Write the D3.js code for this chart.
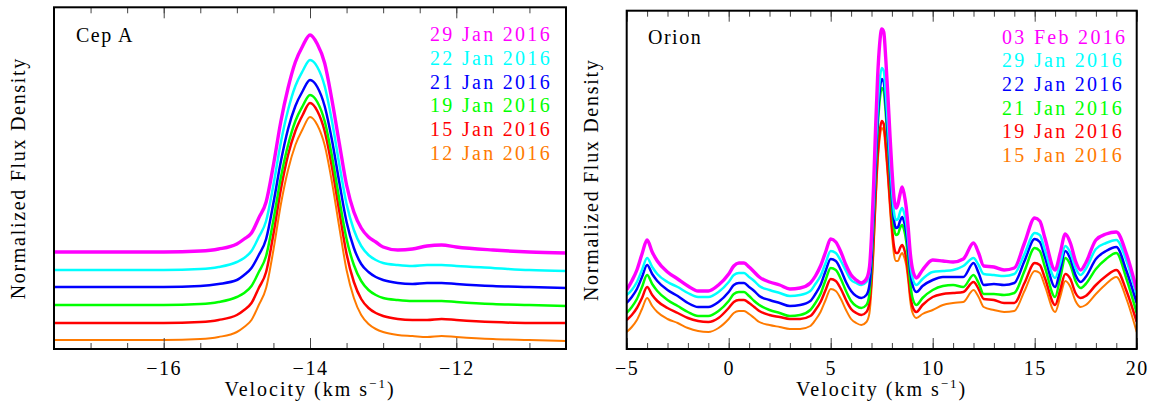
<!DOCTYPE html>
<html>
<head>
<meta charset="utf-8">
<script src="https://cdn.jsdelivr.net/npm/d3@7"></script>
<style>
  html, body { margin: 0; padding: 0; background: #fff; }
  svg { display: block; }
  text { font-family: "Liberation Serif", "DejaVu Serif", serif; fill: #000; }
</style>
</head>
<body>
<svg id="chart" width="1150" height="402"></svg>
<script>
// ---------------- Cep A spectra (velocity in km/s, normalized flux, stacked) ----------------
const cepVel = [-17.5, -17.0, -16.5, -16.0, -15.5, -15.25, -15.0, -14.9, -14.8, -14.7, -14.6, -14.5,
  -14.4, -14.3, -14.2, -14.1, -14.0, -13.9, -13.8, -13.7, -13.6, -13.5, -13.4, -13.3, -13.2, -13.1,
  -13.0, -12.8, -12.6, -12.4, -12.2, -12.0, -11.5, -11.0, -10.5];
const cepDates = ["29 Jan 2016", "22 Jan 2016", "21 Jan 2016", "19 Jan 2016", "15 Jan 2016", "12 Jan 2016"];
const cep29Jan = [0.97, 0.97, 0.97, 0.97, 0.98, 1.00, 1.05, 1.10, 1.16, 1.31, 1.47, 1.84, 2.27, 2.61, 2.87, 3.03, 3.14, 3.05, 2.86, 2.49, 2.06, 1.64, 1.37, 1.21, 1.12, 1.07, 1.02, 0.99, 1.00, 1.03, 1.04, 1.02, 0.99, 0.97, 0.96];
const cep22Jan = [0.79, 0.79, 0.79, 0.79, 0.80, 0.82, 0.87, 0.91, 0.98, 1.12, 1.28, 1.64, 2.06, 2.39, 2.63, 2.78, 2.89, 2.82, 2.63, 2.28, 1.85, 1.45, 1.19, 1.03, 0.94, 0.89, 0.86, 0.84, 0.83, 0.84, 0.84, 0.83, 0.81, 0.79, 0.78];
const cep21Jan = [0.62, 0.62, 0.62, 0.62, 0.63, 0.65, 0.69, 0.74, 0.81, 0.94, 1.10, 1.46, 1.87, 2.20, 2.43, 2.58, 2.69, 2.62, 2.43, 2.09, 1.67, 1.27, 1.01, 0.85, 0.77, 0.72, 0.69, 0.66, 0.65, 0.66, 0.66, 0.65, 0.63, 0.62, 0.61];
const cep19Jan = [0.44, 0.44, 0.44, 0.44, 0.45, 0.47, 0.52, 0.56, 0.63, 0.77, 0.93, 1.29, 1.71, 2.04, 2.28, 2.43, 2.54, 2.47, 2.28, 1.93, 1.50, 1.10, 0.84, 0.68, 0.59, 0.54, 0.51, 0.49, 0.48, 0.48, 0.48, 0.47, 0.45, 0.44, 0.43];
const cep15Jan = [0.26, 0.26, 0.26, 0.26, 0.27, 0.29, 0.34, 0.39, 0.46, 0.61, 0.77, 1.15, 1.59, 1.94, 2.18, 2.34, 2.46, 2.38, 2.18, 1.82, 1.38, 0.95, 0.67, 0.50, 0.41, 0.36, 0.33, 0.30, 0.29, 0.29, 0.30, 0.29, 0.27, 0.26, 0.26];
const cep12Jan = [0.09, 0.09, 0.09, 0.09, 0.10, 0.12, 0.17, 0.22, 0.29, 0.44, 0.61, 0.99, 1.44, 1.79, 2.04, 2.20, 2.32, 2.24, 2.04, 1.67, 1.22, 0.79, 0.51, 0.34, 0.25, 0.20, 0.17, 0.14, 0.13, 0.12, 0.13, 0.12, 0.10, 0.09, 0.08];

// ---------------- Orion spectra ----------------
const orionVel = [-5, -4.75, -4.5, -4.25, -4.0, -3.75, -3.5, -3.0, -2.5, -2.0, -1.5, -1.0, -0.5, 0, 0.25, 0.5,
  0.75, 1.0, 1.25, 1.5, 2.0, 2.5, 3.0, 3.5, 4.0, 4.25, 4.5, 4.75, 5.0, 5.25, 5.5, 5.75, 6.0, 6.25, 6.5, 6.75,
  6.9, 7.0, 7.1, 7.2, 7.3, 7.4, 7.5, 7.6, 7.7, 7.8, 7.9, 8.0, 8.1, 8.2, 8.3, 8.4, 8.5, 8.6, 8.7, 8.8, 8.9,
  9.0, 9.2, 9.5, 10.0, 10.5, 11.0, 11.5, 12.0, 12.25, 12.5, 13.0, 13.5, 14.0, 14.5, 15.0, 15.25, 15.5, 16.0,
  16.25, 16.5, 16.75, 17.0, 17.25, 17.5, 18.0, 18.5, 19.0, 19.5, 20.0];
const orionDates = ["03 Feb 2016", "29 Jan 2016", "22 Jan 2016", "21 Jan 2016", "19 Jan 2016", "15 Jan 2016"];
const orion03Feb = [0.59, 0.68, 0.79, 0.95, 1.09, 0.97, 0.88, 0.77, 0.70, 0.63, 0.58, 0.58, 0.64, 0.75, 0.83, 0.86,
  0.86, 0.82, 0.77, 0.72, 0.67, 0.64, 0.60, 0.61, 0.66, 0.73, 0.83, 0.97, 1.10, 1.07, 0.97, 0.84, 0.74, 0.69, 0.66, 0.70,
  0.82, 1.13, 1.62, 2.21, 2.72, 3.05, 3.20, 3.17, 2.90, 2.55, 2.16, 1.80, 1.52, 1.41, 1.45, 1.55, 1.62, 1.55, 1.42, 1.21, 0.96,
  0.81, 0.71, 0.79, 0.89, 0.88, 0.87, 0.90, 1.06, 0.96, 0.83, 0.82, 0.79, 0.81, 1.06, 1.31, 1.28, 1.11, 0.79,
  0.96, 1.15, 1.06, 0.88, 0.79, 0.86, 1.09, 1.15, 1.17, 0.95, 0.59];
const orion29Jan = [0.54, 0.59, 0.67, 0.79, 0.91, 0.82, 0.75, 0.67, 0.62, 0.56, 0.52, 0.52, 0.57, 0.67, 0.74, 0.76,
  0.76, 0.72, 0.68, 0.63, 0.59, 0.56, 0.53, 0.54, 0.58, 0.65, 0.73, 0.86, 0.98, 0.96, 0.88, 0.78, 0.69, 0.66, 0.64, 0.67,
  0.77, 1.03, 1.45, 1.96, 2.40, 2.68, 2.81, 2.78, 2.55, 2.25, 1.91, 1.60, 1.37, 1.29, 1.30, 1.37, 1.41, 1.36, 1.26, 1.08, 0.86,
  0.72, 0.64, 0.70, 0.77, 0.78, 0.79, 0.83, 0.91, 0.84, 0.75, 0.74, 0.73, 0.75, 0.95, 1.16, 1.14, 0.99, 0.71,
  0.86, 1.03, 0.96, 0.81, 0.74, 0.80, 1.00, 1.06, 1.09, 0.88, 0.54];
const orion22Jan = [0.46, 0.52, 0.60, 0.72, 0.84, 0.75, 0.68, 0.59, 0.53, 0.46, 0.42, 0.42, 0.47, 0.57, 0.64, 0.66,
  0.66, 0.62, 0.58, 0.53, 0.49, 0.46, 0.43, 0.44, 0.48, 0.55, 0.64, 0.78, 0.90, 0.88, 0.79, 0.67, 0.58, 0.53, 0.51, 0.54,
  0.64, 0.91, 1.34, 1.85, 2.29, 2.57, 2.70, 2.67, 2.44, 2.14, 1.81, 1.51, 1.29, 1.21, 1.22, 1.28, 1.32, 1.27, 1.17, 0.99, 0.78,
  0.65, 0.57, 0.63, 0.69, 0.72, 0.72, 0.72, 0.86, 0.76, 0.64, 0.65, 0.64, 0.66, 0.88, 1.10, 1.07, 0.92, 0.62,
  0.79, 0.98, 0.90, 0.74, 0.67, 0.72, 0.90, 0.98, 1.02, 0.78, 0.46];
const orion21Jan = [0.36, 0.42, 0.50, 0.62, 0.74, 0.65, 0.58, 0.49, 0.43, 0.37, 0.33, 0.33, 0.38, 0.48, 0.55, 0.57,
  0.57, 0.53, 0.48, 0.44, 0.39, 0.36, 0.33, 0.34, 0.39, 0.46, 0.55, 0.69, 0.81, 0.79, 0.70, 0.58, 0.48, 0.43, 0.41, 0.44,
  0.55, 0.82, 1.25, 1.76, 2.20, 2.48, 2.61, 2.58, 2.35, 2.06, 1.73, 1.43, 1.21, 1.14, 1.15, 1.21, 1.24, 1.19, 1.08, 0.89, 0.66,
  0.52, 0.44, 0.51, 0.59, 0.63, 0.64, 0.62, 0.74, 0.66, 0.55, 0.55, 0.54, 0.56, 0.78, 1.01, 0.98, 0.82, 0.52,
  0.71, 0.91, 0.84, 0.68, 0.61, 0.65, 0.80, 0.90, 0.96, 0.70, 0.36];
const orion19Jan = [0.29, 0.34, 0.41, 0.51, 0.62, 0.54, 0.48, 0.41, 0.36, 0.31, 0.28, 0.27, 0.31, 0.41, 0.47, 0.49,
  0.49, 0.46, 0.42, 0.38, 0.34, 0.32, 0.30, 0.30, 0.33, 0.39, 0.47, 0.59, 0.70, 0.68, 0.60, 0.49, 0.40, 0.36, 0.34, 0.37,
  0.46, 0.69, 1.07, 1.53, 1.93, 2.17, 2.28, 2.25, 2.05, 1.79, 1.50, 1.23, 1.03, 0.96, 0.96, 1.01, 1.04, 1.00, 0.91, 0.75, 0.55,
  0.43, 0.37, 0.44, 0.52, 0.55, 0.56, 0.57, 0.67, 0.60, 0.50, 0.49, 0.46, 0.46, 0.66, 0.86, 0.84, 0.71, 0.44,
  0.59, 0.75, 0.70, 0.56, 0.51, 0.53, 0.64, 0.73, 0.79, 0.58, 0.27];
const orion15Jan = [0.17, 0.22, 0.29, 0.40, 0.51, 0.43, 0.37, 0.30, 0.26, 0.21, 0.18, 0.17, 0.21, 0.30, 0.36, 0.38,
  0.38, 0.35, 0.31, 0.27, 0.24, 0.22, 0.20, 0.20, 0.23, 0.29, 0.37, 0.49, 0.60, 0.58, 0.50, 0.39, 0.30, 0.26, 0.24, 0.27,
  0.36, 0.60, 0.98, 1.45, 1.85, 2.10, 2.21, 2.18, 1.98, 1.72, 1.42, 1.15, 0.95, 0.88, 0.88, 0.93, 0.96, 0.92, 0.84, 0.68, 0.48,
  0.37, 0.31, 0.35, 0.39, 0.44, 0.46, 0.47, 0.59, 0.52, 0.42, 0.39, 0.37, 0.38, 0.58, 0.78, 0.76, 0.63, 0.37,
  0.52, 0.68, 0.62, 0.48, 0.42, 0.44, 0.55, 0.65, 0.72, 0.50, 0.17];

// Line colours, top row of the legend first
const dateColors = ["#ff00ff", "#00ffff", "#0000ff", "#00ff00", "#ff0000", "#ff7a00"];
const lineWidths = [3.4, 2.5, 2.5, 2.5, 2.5, 2.0];

const svg = d3.select("#chart");

function drawPanel(p) {
  const g = svg.append("g");
  const x = d3.scaleLinear().domain(p.xDomain).range([p.left, p.right]);
  const y = d3.scaleLinear().domain([0, (p.bottom - p.top) / 100]).range([p.bottom, p.top]);

  const clipId = "clip-" + p.key;
  svg.append("clipPath").attr("id", clipId)
    .append("rect").attr("x", p.left).attr("y", p.top)
    .attr("width", p.right - p.left).attr("height", p.bottom - p.top);

  // spectra, lowest trace first
  const line = d3.line().x(d => x(d[0])).y(d => y(d[1])).curve(d3.curveMonotoneX);
  const traces = g.append("g").attr("clip-path", `url(#${clipId})`);
  for (let i = p.series.length - 1; i >= 0; i--) {
    const pts = p.vel.map((v, k) => [v, p.series[i][k]]);
    traces.append("path")
      .attr("d", line(pts))
      .attr("fill", "none")
      .attr("stroke", dateColors[i])
      .attr("stroke-width", lineWidths[i])
      .attr("stroke-linejoin", "round");
  }

  // ticks on bottom and top edges, pointing inward
  const minorVals = d3.range(p.xDomain[0], p.xDomain[1] + 1e-9, p.minorStep);
  const majorVals = p.majorTicks;
  const fmt = d3.format("d");
  const tickStyle = sel => {
    sel.select(".domain").remove();
    sel.attr("font-family", null);
    sel.selectAll(".tick line").attr("stroke", "#444").attr("stroke-width", 1);
  };
  g.append("g").attr("transform", `translate(0,${p.bottom})`)
    .call(d3.axisBottom(x).tickValues(minorVals).tickSize(-6).tickFormat(""))
    .call(tickStyle);
  g.append("g").attr("transform", `translate(0,${p.top})`)
    .call(d3.axisTop(x).tickValues(minorVals).tickSize(-6).tickFormat(""))
    .call(tickStyle);
  g.append("g").attr("transform", `translate(0,${p.top})`)
    .call(d3.axisTop(x).tickValues(majorVals).tickSize(-11).tickFormat(""))
    .call(tickStyle);
  const bAxis = g.append("g").attr("transform", `translate(0,${p.bottom})`)
    .call(d3.axisBottom(x).tickValues(majorVals).tickSize(-11).tickPadding(0).tickFormat(fmt))
    .call(tickStyle);
  bAxis.selectAll(".tick text")
    .attr("y", 26).attr("dy", 0)
    .style("font-family", "'Liberation Serif', serif")
    .style("font-size", "20px")
    .style("letter-spacing", "1.5px")
    .attr("fill", "#000");

  // frame
  g.append("rect")
    .attr("x", p.left).attr("y", p.top)
    .attr("width", p.right - p.left).attr("height", p.bottom - p.top)
    .attr("fill", "none").attr("stroke", "#000").attr("stroke-width", 2);

  // source name
  g.append("text").attr("x", p.titleX).attr("y", p.titleY)
    .style("font-size", "20px").style("letter-spacing", "1.5px")
    .text(p.title);

  // legend of observing dates
  p.dates.forEach((d, i) => {
    g.append("text")
      .attr("x", p.legendX).attr("y", p.legendY + i * p.legendDy)
      .style("font-size", "20px").style("letter-spacing", "2.3px")
      .style("fill", dateColors[i])
      .text(d);
  });

  // axis titles
  const xt = g.append("text")
    .attr("x", (p.left + p.right) / 2).attr("y", 396)
    .attr("text-anchor", "middle")
    .style("font-size", "20px").style("letter-spacing", "2px");
  xt.append("tspan").text("Velocity (km s");
  xt.append("tspan").attr("dy", -8).style("font-size", "13px").text("\u22121");
  xt.append("tspan").attr("dy", 8).text(")");

  g.append("text")
    .attr("transform", `translate(${p.yLabelX},${(p.top + p.bottom) / 2}) rotate(-90)`)
    .attr("text-anchor", "middle")
    .style("font-size", "20px").style("letter-spacing", "1.7px")
    .text("Normalized Flux Density");
}

drawPanel({
  key: "cep", left: 54, right: 566, top: 7.3, bottom: 349,
  xDomain: [-17.5, -10.5], minorStep: 0.5, majorTicks: [-16, -14, -12],
  vel: cepVel, series: [cep29Jan, cep22Jan, cep21Jan, cep19Jan, cep15Jan, cep12Jan],
  dates: cepDates, title: "Cep A", titleX: 76, titleY: 42,
  legendX: 430, legendY: 41, legendDy: 23.8, yLabelX: 25
});

drawPanel({
  key: "orion", left: 626.7, right: 1136.7, top: 10.7, bottom: 349,
  xDomain: [-5, 20], minorStep: 1, majorTicks: [-5, 0, 5, 10, 15, 20],
  vel: orionVel, series: [orion03Feb, orion29Jan, orion22Jan, orion21Jan, orion19Jan, orion15Jan],
  dates: orionDates, title: "Orion", titleX: 648, titleY: 43.5,
  legendX: 1002, legendY: 43.5, legendDy: 23.7, yLabelX: 598
});
</script>
</body>
</html>
